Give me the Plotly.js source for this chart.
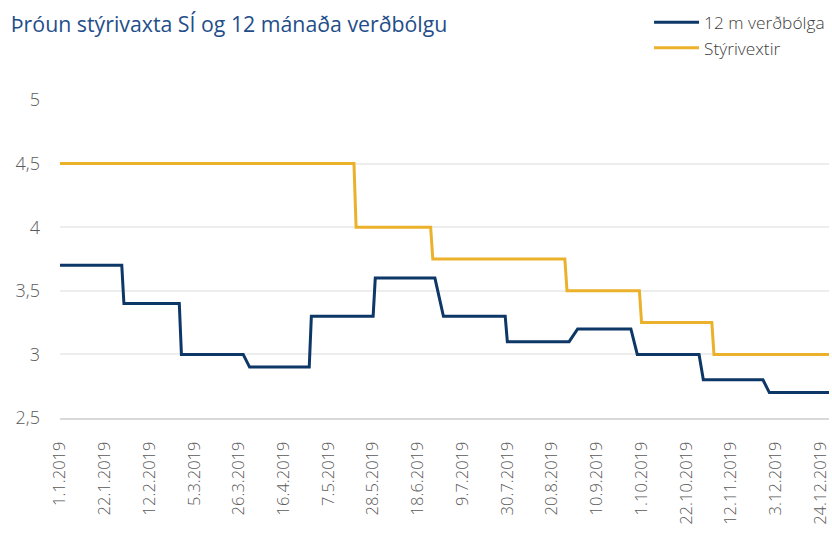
<!DOCTYPE html>
<html>
<head>
<meta charset="utf-8">
<script src="https://cdn.plot.ly/plotly-3.0.1.min.js"></script>
<style>
html,body{margin:0;padding:0;background:#fff;}
#chart{width:832px;height:536px;}
</style>
</head>
<body>
<div id="chart"></div>
<script>
// 12 month inflation (step points)
const inflationDates = ['2019-01-01','2019-01-30','2019-01-31','2019-02-26','2019-02-27','2019-03-28','2019-03-31','2019-04-28','2019-04-29','2019-05-28','2019-05-29','2019-06-26','2019-06-30','2019-07-29','2019-07-30','2019-08-28','2019-09-01','2019-09-26','2019-09-29','2019-10-28','2019-10-30','2019-11-27','2019-11-30','2019-12-28'];
const inflationValues = [3.7,3.7,3.4,3.4,3.0,3.0,2.9,2.9,3.3,3.3,3.6,3.6,3.3,3.3,3.1,3.1,3.2,3.2,3.0,3.0,2.8,2.8,2.7,2.7];

// Policy rate
const rateDates = ['2019-01-01','2019-05-19','2019-05-20','2019-06-24','2019-06-25','2019-08-26','2019-08-27','2019-09-30','2019-10-01','2019-11-03','2019-11-04','2019-12-28'];
const rateValues = [4.5,4.5,4.0,4.0,3.75,3.75,3.5,3.5,3.25,3.25,3.0,3.0];

const seriesNames = ['12 m verðbólga','Stýrivextir'];

const xTickVals = ['2019-01-01','2019-01-22','2019-02-12','2019-03-05','2019-03-26','2019-04-16','2019-05-07','2019-05-28','2019-06-18','2019-07-09','2019-07-30','2019-08-20','2019-09-10','2019-10-01','2019-10-22','2019-11-12','2019-12-03','2019-12-24'];
const xTickText = ['1.1.2019','22.1.2019','12.2.2019','5.3.2019','26.3.2019','16.4.2019','7.5.2019','28.5.2019','18.6.2019','9.7.2019','30.7.2019','20.8.2019','10.9.2019','1.10.2019','22.10.2019','12.11.2019','3.12.2019','24.12.2019'];

const yTickVals = [2.5,3,3.5,4,4.5,5];
const yTickText = ['2,5','3','3,5','4','4,5','5'];

const traces = [
  {x: inflationDates, y: inflationValues, name: seriesNames[0], type: 'scatter', mode: 'lines',
   line: {color: '#0d3766', width: 3}},
  {x: rateDates, y: rateValues, name: seriesNames[1], type: 'scatter', mode: 'lines',
   line: {color: '#ebb12b', width: 3}}
];

const layout = {
  width: 832, height: 536,
  margin: {l: 60, r: 3, t: 100, b: 118, autoexpand: false},
  paper_bgcolor: '#ffffff', plot_bgcolor: '#ffffff',
  font: {family: '"Open Sans", sans-serif', color: '#595959'},
  title: {text: 'Þróun stýrivaxta SÍ og 12 mánaða verðbólgu', xref: 'container', yref: 'container',
          x: 0.013, xanchor: 'left', y: 0.955, yanchor: 'middle',
          font: {family: '"Open Sans", sans-serif', size: 21.3, color: '#1f4e8a'}},
  xaxis: {type: 'date', range: ['2019-01-01', '2019-12-28'],
          tickvals: xTickVals, ticktext: xTickText, tickangle: -90,
          tickfont: {size: 16.5, color: '#595959', weight: 300},
          showgrid: false, zeroline: false, showline: true, linecolor: '#d9d9d9', linewidth: 2,
          ticks: '', ticklabelstandoff: 15, fixedrange: true, automargin: false},
  yaxis: {range: [2.5, 5], tickvals: yTickVals, ticktext: yTickText,
          tickfont: {size: 18, color: '#595959', weight: 300},
          showgrid: true, gridcolor: '#ededed', gridwidth: 2, zeroline: false, showline: false,
          ticks: '', ticklabelstandoff: 19, fixedrange: true, automargin: false},
  showlegend: true,
  legend: {x: 0.766, xanchor: 'left', y: 1.30, yanchor: 'top', orientation: 'v', itemwidth: 45,
           font: {size: 17.3, color: '#404040', weight: 300}, tracegroupgap: 0, bgcolor: 'rgba(0,0,0,0)'}
};

Plotly.newPlot('chart', traces, layout, {displayModeBar: false, staticPlot: true});
</script>
</body>
</html>
